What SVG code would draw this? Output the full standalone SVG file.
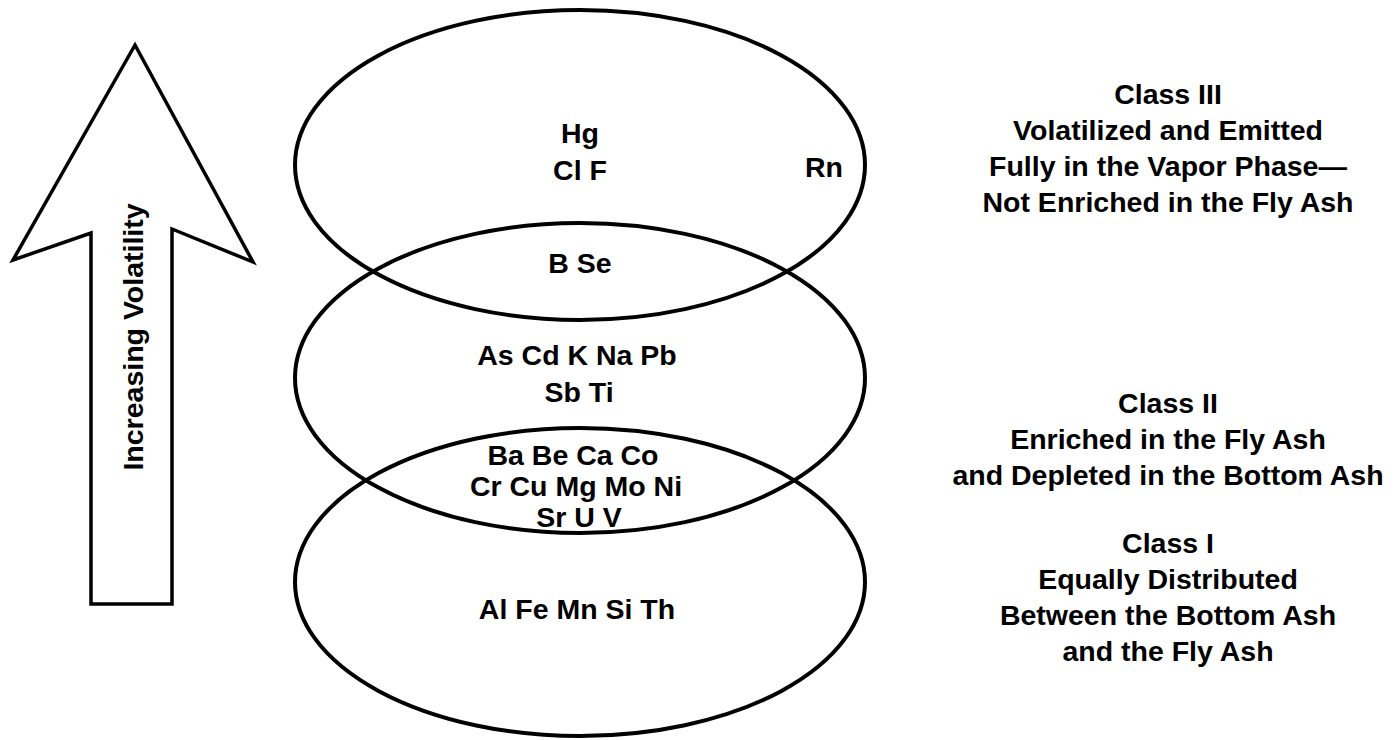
<svg xmlns="http://www.w3.org/2000/svg" width="1393" height="740" viewBox="0 0 1393 740">
  <style>
    .lbl { font-family: "Liberation Sans", Arial, sans-serif; font-weight: bold; font-size: 28.5px; fill: #000; text-anchor: middle; }
    .ring { fill: none; stroke: #000; stroke-width: 4; }
    .arrow { fill: #fff; stroke: #000; stroke-width: 3.5; stroke-linejoin: miter; }
  </style>
  <rect width="1393" height="740" fill="#fff"/>

  <!-- volatility arrow -->
  <g id="volatility-arrow">
    <polygon class="arrow" points="135,45 253,262 172,229 172,604 91,604 91,233 13,260"/>
    <text class="lbl" transform="translate(143,337) rotate(-90)">Increasing Volatility</text>
  </g>

  <!-- class III: vapour phase -->
  <g id="class3">
    <ellipse class="ring" cx="580" cy="165" rx="285" ry="155"/>
    <text class="lbl" x="580" y="143">Hg</text>
    <text class="lbl" x="580" y="180">Cl F</text>
    <text class="lbl" x="824" y="177">Rn</text>
  </g>

  <!-- class II: enriched in fly ash -->
  <g id="class2">
    <ellipse class="ring" cx="580" cy="378" rx="285" ry="155"/>
    <text class="lbl" x="580" y="273">B Se</text>
    <text class="lbl" x="577" y="365">As Cd K Na Pb</text>
    <text class="lbl" x="579" y="402">Sb Ti</text>
  </g>

  <!-- class I: equally distributed -->
  <g id="class1">
    <ellipse class="ring" cx="580" cy="582" rx="285" ry="154"/>
    <text class="lbl" x="573" y="465">Ba Be Ca Co</text>
    <text class="lbl" x="576" y="496">Cr Cu Mg Mo Ni</text>
    <text class="lbl" x="579" y="527">Sr U V</text>
    <text class="lbl" x="577" y="619">Al Fe Mn Si Th</text>
  </g>

  <!-- class descriptions -->
  <g id="desc3">
    <text class="lbl" x="1168" y="104">Class III</text>
    <text class="lbl" x="1168" y="140">Volatilized and Emitted</text>
    <text class="lbl" x="1168" y="176">Fully in the Vapor Phase—</text>
    <text class="lbl" x="1168" y="212">Not Enriched in the Fly Ash</text>
  </g>
  <g id="desc2">
    <text class="lbl" x="1168" y="413">Class II</text>
    <text class="lbl" x="1168" y="449">Enriched in the Fly Ash</text>
    <text class="lbl" x="1168" y="485">and Depleted in the Bottom Ash</text>
  </g>
  <g id="desc1">
    <text class="lbl" x="1168" y="553">Class I</text>
    <text class="lbl" x="1168" y="589">Equally Distributed</text>
    <text class="lbl" x="1168" y="625">Between the Bottom Ash</text>
    <text class="lbl" x="1168" y="661">and the Fly Ash</text>
  </g>

  <g id="connectors"></g>
</svg>
